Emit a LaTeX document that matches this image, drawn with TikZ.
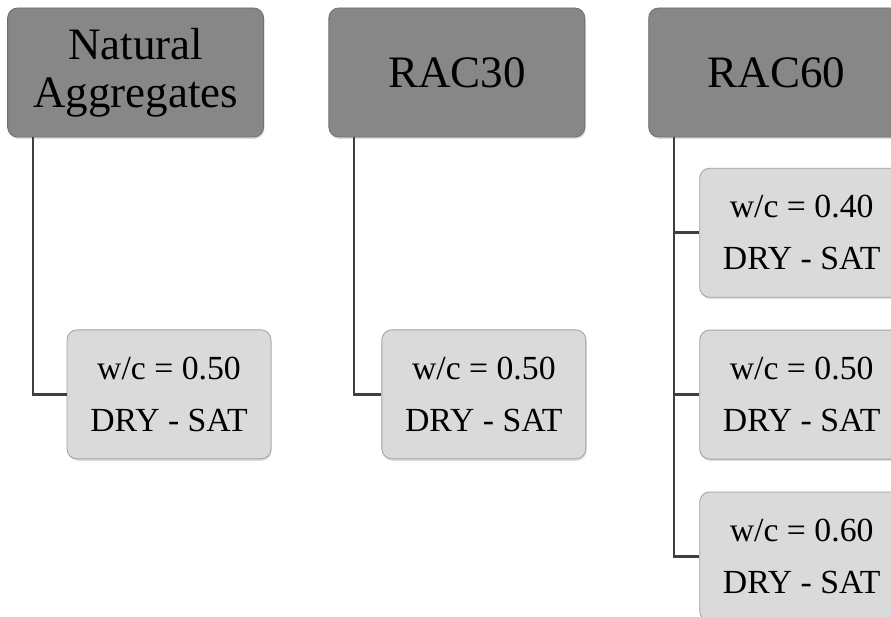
\documentclass[tikz,border=0pt]{standalone}
\usepackage{fontspec}
\setmainfont{Liberation Serif}
\usetikzlibrary{positioning,shadows}

\definecolor{headgray}{HTML}{878787}
\definecolor{headedge}{HTML}{6F6F6F}
\definecolor{mixgray}{HTML}{DADADA}
\definecolor{mixedge}{HTML}{A3A3A3}
\definecolor{linegray}{HTML}{3F3F3F}

\begin{document}
\begin{tikzpicture}[
        head/.style={rectangle, rounded corners=0.25cm, draw=headedge, line width=0.6pt, fill=headgray, align=center,
            minimum width=6.4cm, minimum height=3.225cm, font=\fontsize{32}{34}\selectfont,
            drop shadow={opacity=0.3, shadow xshift=0.02cm, shadow yshift=-0.05cm}},
        mix/.style={rectangle, rounded corners=0.25cm, draw=mixedge, line width=0.6pt, fill=mixgray, align=center,
            minimum width=5.1cm, minimum height=3.225cm, font=\fontsize{24}{37}\selectfont,
            drop shadow={opacity=0.25, shadow xshift=0.02cm, shadow yshift=-0.05cm}},
        link/.style={draw=linegray, line width=1.8pt}
    ]
        \useasboundingbox (0,0) rectangle (22.275,-15.425);

        % aggregate types
        \node[head] (nat) at (3.39,-1.8125) {Natural\\Aggregates};
        \node[head] (rac30) [right=1.61cm of nat] {RAC30};
        \node[head] (rac60) [right=1.575cm of rac30] {RAC60};

        % mixes
        \node[mix] (natmix) [below right=4.8cm and 1.485cm of nat.south west] {w/c = 0.50\\DRY - SAT};
        \node[mix] (rac30mix) [below right=4.8cm and 1.325cm of rac30.south west] {w/c = 0.50\\DRY - SAT};
        \node[mix] (rac60a) [below right=0.76cm and 1.275cm of rac60.south west] {w/c = 0.40\\DRY - SAT};
        \node[mix] (rac60b) [below=0.8cm of rac60a] {w/c = 0.50\\DRY - SAT};
        \node[mix] (rac60c) [below=0.8cm of rac60b] {w/c = 0.60\\DRY - SAT};

        % elbow connectors
        \draw[link] ([xshift=0.64cm]nat.south west) |- (natmix.west);
        \draw[link] ([xshift=0.64cm]rac30.south west) |- (rac30mix.west);
        \foreach \m in {rac60a,rac60b,rac60c}
            \draw[link] ([xshift=0.64cm]rac60.south west) |- (\m.west);
    \end{tikzpicture}
\end{document}
